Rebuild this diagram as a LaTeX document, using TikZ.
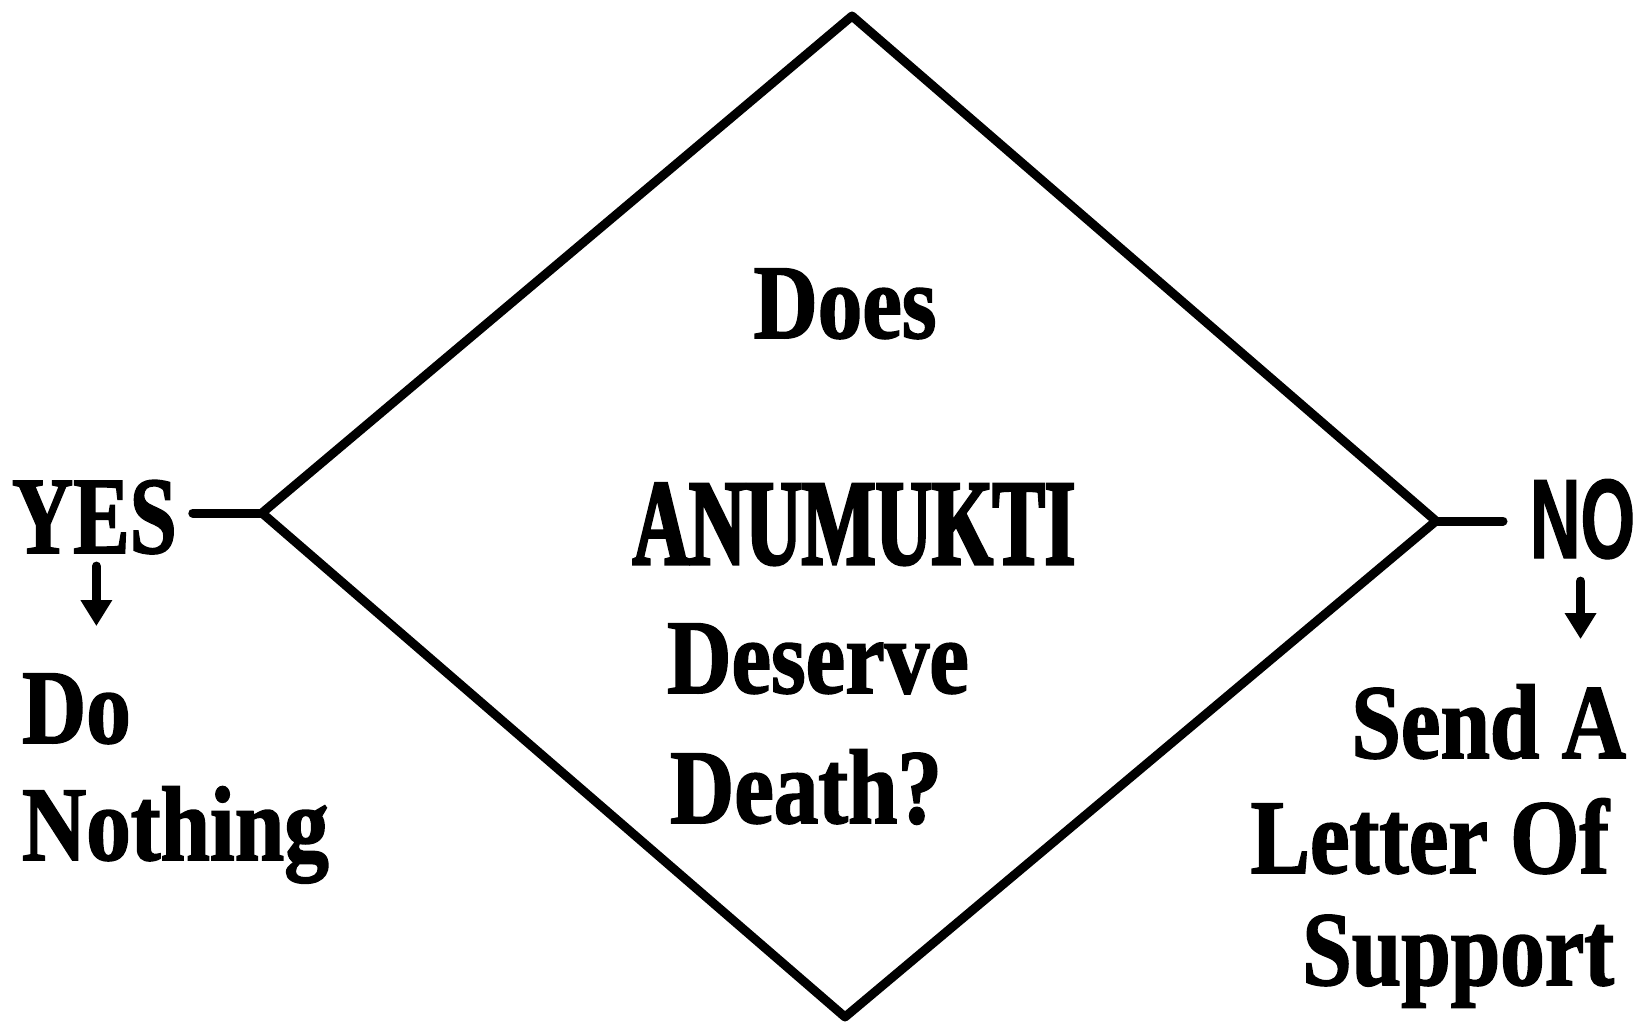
\documentclass[tikz,border=0pt]{standalone}
\usepackage{fontspec}
\usetikzlibrary{arrows.meta}
\newfontfamily\bodyfont{Liberation Serif}[FakeStretch=0.84,FakeBold=1.5]
\newfontfamily\yesfont{Liberation Serif}[FakeStretch=0.77,FakeBold=1.5]
\newfontfamily\anufont{Liberation Serif}[FakeStretch=0.64,FakeBold=2.5]
\newfontfamily\nofont{Liberation Sans}[FakeStretch=0.62,FakeBold=1]
\tikzset{
  lbl/.style={inner sep=0pt, outer sep=0pt, font=\bodyfont\bfseries\fontsize{106}{110}\selectfont},
  yeslbl/.style={inner sep=0pt, outer sep=0pt, font=\yesfont\bfseries\fontsize{110}{114}\selectfont},
  anulbl/.style={inner sep=0pt, outer sep=0pt, font=\anufont\bfseries\fontsize{122}{126}\selectfont},
  nolbl/.style={inner sep=0pt, outer sep=0pt, font=\nofont\bfseries\fontsize{113}{116}\selectfont},
  edge/.style={line width=9pt, line join=round, line cap=round},
  downarrow/.style={line width=9pt, line cap=round, -{Triangle[width=30pt,length=26pt]}}
}
\begin{document}
\begin{tikzpicture}[x=1pt,y=-1pt]
\useasboundingbox[fill=white] (0,0) rectangle (1638,1024);
% diamond corners
\coordinate (T) at (852,16);
\coordinate (L) at (262,513);
\coordinate (B) at (845,1017);
\coordinate (R) at (1436,521);
\draw[edge] (T) -- (R) -- (B) -- (L) -- cycle;
% labels
\node[yeslbl, anchor=base west] (yes) at (12,553) {YES};
\node[lbl, anchor=base west] (do) at (22,743) {Do};
\node[lbl, anchor=base west] (nothing) at (22,860) {Nothing};
\node[lbl, anchor=base] (does) at (845,338) {Does};
\node[anulbl, anchor=base] (anu) at (854,564) {ANUMUKTI};
\node[lbl, anchor=base] (deserve) at (818,693) {Deserve};
\node[lbl, anchor=base] (death) at (806,823) {Death?};
\node[nolbl, anchor=base west] (no) at (1530,558) {NO};
\node[lbl, anchor=base east] (send) at (1626,758) {Send A};
\node[lbl, anchor=base east] (letter) at (1609,873) {Letter Of};
\node[lbl, anchor=base east] (support) at (1614,985) {Support};
% connectors
\draw[edge] ([xshift=16pt]yes.east |- L) -- (L);
\draw[edge] (R) -- ([xshift=-27pt]no.west |- R);
\coordinate (yesend) at ([xshift=2pt,yshift=-72pt]yes.south);
\coordinate (noend) at ([xshift=-2pt,yshift=-80pt]no.south);
\draw[downarrow] ([xshift=2pt,yshift=-12pt]yes.south) -- (yesend);
\draw[downarrow] ([xshift=-2pt,yshift=-22pt]no.south) -- (noend);
\end{tikzpicture}
\end{document}
